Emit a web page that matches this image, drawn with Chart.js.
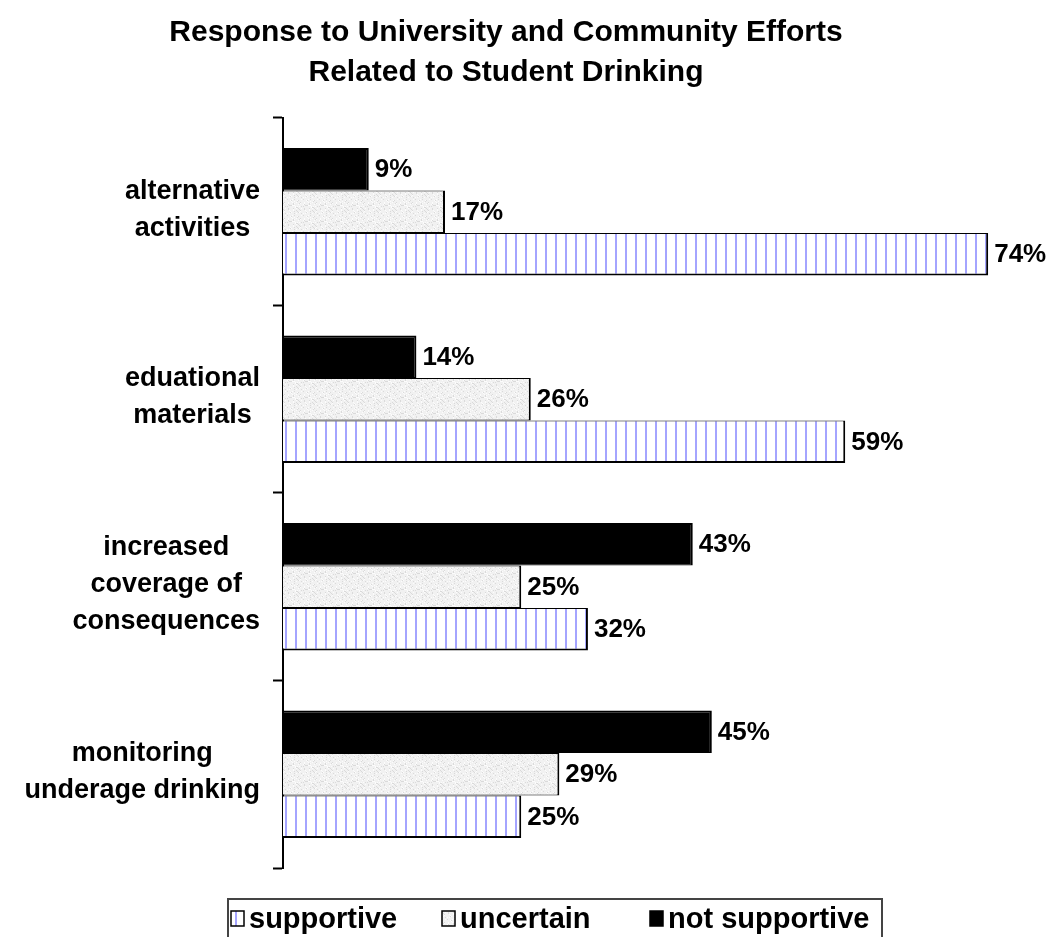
<!DOCTYPE html>
<html>
<head>
<meta charset="utf-8">
<script src="https://cdn.jsdelivr.net/npm/chart.js@4/dist/chart.umd.min.js"></script>
<style>
html,body{margin:0;padding:0;background:#fff;}
canvas{display:block;}
</style>
</head>
<body>
<canvas id="c" width="1052" height="937"></canvas>
<script>
// ---- data ----
const titleLines = ["Response to University and Community Efforts", "Related to Student Drinking"];
const categories = [
  ["alternative", "activities"],
  ["eduational", "materials"],
  ["increased", "coverage of", "consequences"],
  ["monitoring", "underage drinking"]
];
const seriesNames = ["supportive", "uncertain", "not supportive"];
const supportive = [74, 59, 32, 25];
const uncertain = [17, 26, 25, 29];
const notSupportive = [9, 14, 43, 45];

// ---- patterns ----
function stripePattern() {
  const t = document.createElement('canvas');
  t.width = 10; t.height = 10;
  const g = t.getContext('2d');
  g.fillStyle = '#ffffff'; g.fillRect(0, 0, 10, 10);
  g.fillStyle = '#a4a4ff'; g.fillRect(5, 0, 2, 10);
  return g.createPattern(t, 'repeat');
}
function speckPattern() {
  const t = document.createElement('canvas');
  t.width = 16; t.height = 16;
  const g = t.getContext('2d');
  g.fillStyle = '#f1f1f1'; g.fillRect(0, 0, 16, 16);
  for (let i = 0; i < 16; i++) {
    for (let j = 0; j < 16; j++) {
      const h = (i * 37 + j * 71 + i * j * 13) % 23;
      if (h < 3) { g.fillStyle = '#dadada'; g.fillRect(i, j, 1, 1); }
      else if (h > 19) { g.fillStyle = '#fcfcfc'; g.fillRect(i, j, 1, 1); }
    }
  }
  return g.createPattern(t, 'repeat');
}
const fills = {
  "supportive": stripePattern(),
  "uncertain": speckPattern(),
  "not supportive": '#000000'
};

const FONT = "'Liberation Sans', Arial, sans-serif";

// value labels at bar ends
const valueLabels = {
  id: 'valueLabels',
  afterDatasetsDraw(chart) {
    const ctx = chart.ctx;
    ctx.save();
    ctx.font = "bold 26px " + FONT;
    ctx.fillStyle = '#000';
    ctx.textAlign = 'left';
    ctx.textBaseline = 'middle';
    chart.data.datasets.forEach((ds, di) => {
      const meta = chart.getDatasetMeta(di);
      meta.data.forEach((el, i) => {
        ctx.fillText(ds.data[i] + '%', el.x + 6, el.y + 1);
      });
    });
    ctx.restore();
  }
};

// category labels: each block right-aligned, lines centred inside it
const catLabels = {
  id: 'catLabels',
  afterDraw(chart) {
    const ctx = chart.ctx;
    const ys = chart.scales.y;
    ctx.save();
    ctx.font = "bold 27px " + FONT;
    ctx.fillStyle = '#000';
    ctx.textAlign = 'center';
    ctx.textBaseline = 'middle';
    const right = 260, lh = 37;
    chart.data.labels.forEach((lines, i) => {
      const yc = ys.getPixelForTick(i);
      const w = Math.max(...lines.map(l => ctx.measureText(l).width));
      const cx = right - w / 2;
      lines.forEach((l, j) => {
        ctx.fillText(l, cx, yc - 2 + (j - (lines.length - 1) / 2) * lh);
      });
    });
    ctx.restore();
  }
};

// bordered legend box at the bottom
const boxLegend = {
  id: 'boxLegend',
  afterDraw(chart) {
    const ctx = chart.ctx;
    ctx.save();
    ctx.strokeStyle = '#444';
    ctx.lineWidth = 2;
    ctx.strokeRect(228, 899, 654, 60);
    ctx.font = "bold 29px " + FONT;
    ctx.textBaseline = 'middle';
    ctx.textAlign = 'left';
    const xs = [231, 442, 650];
    const yc = 919;
    seriesNames.forEach((name, k) => {
      const ds = chart.data.datasets.find(d => d.label === name);
      const x = xs[k];
      ctx.fillStyle = ds.backgroundColor;
      ctx.fillRect(x, yc - 8, 13, 15);
      ctx.lineWidth = 1.5;
      ctx.strokeStyle = '#000';
      ctx.strokeRect(x, yc - 8, 13, 15);
      ctx.fillStyle = '#000';
      ctx.fillText(name, x + 18, yc + 1);
    });
    ctx.restore();
  }
};

new Chart(document.getElementById('c'), {
  type: 'bar',
  data: {
    labels: categories,
    datasets: [
      { label: "not supportive", data: notSupportive, backgroundColor: fills["not supportive"], borderColor: '#000', borderWidth: { top: 2, bottom: 1, right: 2, left: 0 } },
      { label: "uncertain", data: uncertain, backgroundColor: fills["uncertain"], borderColor: '#000', borderWidth: { top: 1, bottom: 1, right: 2, left: 0 } },
      { label: "supportive", data: supportive, backgroundColor: fills["supportive"], borderColor: '#000', borderWidth: { top: 1, bottom: 2, right: 2, left: 0 } }
    ]
  },
  options: {
    indexAxis: 'y',
    responsive: false,
    animation: false,
    layout: { padding: { top: 0, right: 40, bottom: 69, left: 0 } },
    datasets: { bar: { barPercentage: 1, categoryPercentage: 0.68, borderSkipped: false } },
    plugins: {
      legend: { display: false },
      tooltip: { enabled: false },
      title: {
        display: true,
        text: titleLines,
        color: '#000',
        font: { family: FONT, weight: 'bold', size: 30, lineHeight: 1.333 },
        padding: { top: 13, bottom: 25 }
      }
    },
    scales: {
      x: { display: false, min: 0, max: 76.5 },
      y: {
        grid: { display: true, drawOnChartArea: false, drawTicks: true, tickLength: 10, tickColor: '#000', tickWidth: 2, offset: true },
        border: { display: true, color: '#000', width: 2 },
        ticks: { display: false },
        afterFit(scale) { scale.width = 283; }
      }
    }
  },
  plugins: [valueLabels, catLabels, boxLegend]
});
</script>
</body>
</html>
